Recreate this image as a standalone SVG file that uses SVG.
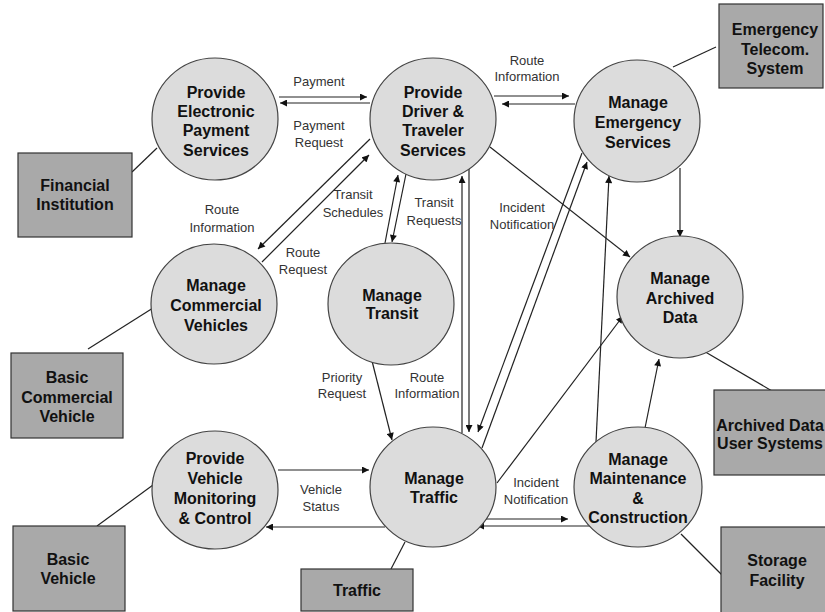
<svg xmlns="http://www.w3.org/2000/svg" width="825" height="612" viewBox="0 0 825 612">
<defs>
<marker id="ah" viewBox="0 0 10 10" refX="10" refY="5" markerWidth="8" markerHeight="7" markerUnits="userSpaceOnUse" orient="auto"><path d="M0,0 L10,5 L0,10 z" fill="#111"/></marker>
<style>
.proc{fill:#dcdcdc;stroke:#444;stroke-width:1.2}
.ext{fill:#a9a9a9;stroke:#333;stroke-width:1.2}
.nt{font-family:"Liberation Sans",Arial,sans-serif;font-weight:bold;font-size:16px;fill:#111;text-anchor:middle}
.lb{font-family:"Liberation Sans",Arial,sans-serif;font-size:13px;fill:#333;text-anchor:middle}
.c{stroke:#222;stroke-width:1.2;fill:none}
.a{stroke:#222;stroke-width:1.2;fill:none;marker-end:url(#ah)}
</style>
</defs>
<rect width="825" height="612" fill="#fff"/>
<g id="connectors">
<line class="c" x1="716" y1="47" x2="673" y2="67"/>
<line class="c" x1="132" y1="172" x2="157" y2="148"/>
<line class="c" x1="153" y1="308" x2="88" y2="349"/>
<line class="c" x1="153" y1="485" x2="97" y2="526"/>
<line class="c" x1="405" y1="542" x2="391" y2="569"/>
<line class="c" x1="702" y1="350" x2="772" y2="391"/>
<line class="c" x1="681" y1="534" x2="722" y2="575"/>
<line class="a" x1="279" y1="97" x2="367" y2="97"/>
<line class="a" x1="370" y1="103" x2="280" y2="103"/>
<line class="a" x1="494" y1="96" x2="569" y2="96"/>
<line class="a" x1="575" y1="104" x2="502" y2="104"/>
<line class="a" x1="490" y1="147" x2="630" y2="257"/>
<line class="a" x1="680" y1="168" x2="680" y2="237"/>
<line class="a" x1="370" y1="139" x2="258" y2="249"/>
<line class="a" x1="262" y1="262" x2="369" y2="155"/>
<line class="a" x1="385" y1="243" x2="398" y2="175"/>
<line class="a" x1="406" y1="174" x2="392" y2="242"/>
<line class="a" x1="462" y1="433" x2="462" y2="176"/>
<line class="a" x1="469" y1="168" x2="469" y2="432"/>
<line class="a" x1="582" y1="153" x2="478" y2="432"/>
<line class="a" x1="482" y1="448" x2="587" y2="162"/>
<line class="a" x1="596" y1="442" x2="609" y2="176"/>
<line class="a" x1="645" y1="428" x2="659" y2="359"/>
<line class="a" x1="497" y1="483" x2="623" y2="316"/>
<line class="a" x1="371" y1="357" x2="392" y2="440"/>
<line class="a" x1="278" y1="470" x2="369" y2="470"/>
<line class="a" x1="385" y1="527" x2="266" y2="527"/>
<line class="a" x1="484" y1="519" x2="568" y2="519"/>
<line class="a" x1="596" y1="526" x2="477" y2="526"/>
</g>
<g id="labels">
<text class="lb" x="319" y="86">Payment</text>
<text class="lb" x="319" y="130">Payment</text>
<text class="lb" x="319" y="147">Request</text>
<text class="lb" x="527" y="65">Route</text>
<text class="lb" x="527" y="81">Information</text>
<text class="lb" x="222" y="214">Route</text>
<text class="lb" x="222" y="232">Information</text>
<text class="lb" x="303" y="257">Route</text>
<text class="lb" x="303" y="274">Request</text>
<text class="lb" x="353" y="199">Transit</text>
<text class="lb" x="353" y="217">Schedules</text>
<text class="lb" x="434" y="207">Transit</text>
<text class="lb" x="434" y="225">Requests</text>
<text class="lb" x="522" y="212">Incident</text>
<text class="lb" x="522" y="229">Notification</text>
<text class="lb" x="342" y="382">Priority</text>
<text class="lb" x="342" y="398">Request</text>
<text class="lb" x="427" y="382">Route</text>
<text class="lb" x="427" y="398">Information</text>
<text class="lb" x="321" y="494">Vehicle</text>
<text class="lb" x="321" y="511">Status</text>
<text class="lb" x="536" y="487">Incident</text>
<text class="lb" x="536" y="504">Notification</text>
</g>
<g id="payment">
<ellipse class="proc" cx="215" cy="119" rx="63" ry="61"/>
<text class="nt" x="216" y="98">Provide</text>
<text class="nt" x="216" y="117">Electronic</text>
<text class="nt" x="216" y="136">Payment</text>
<text class="nt" x="216" y="156">Services</text>
</g>
<g id="driver">
<ellipse class="proc" cx="433" cy="119" rx="63" ry="61"/>
<text class="nt" x="433" y="98">Provide</text>
<text class="nt" x="433" y="117">Driver &amp;</text>
<text class="nt" x="433" y="136">Traveler</text>
<text class="nt" x="433" y="156">Services</text>
</g>
<g id="emergency">
<ellipse class="proc" cx="637" cy="121" rx="63" ry="61"/>
<text class="nt" x="638" y="108">Manage</text>
<text class="nt" x="638" y="128">Emergency</text>
<text class="nt" x="638" y="148">Services</text>
</g>
<g id="archived">
<ellipse class="proc" cx="680" cy="297" rx="63" ry="61"/>
<text class="nt" x="680" y="284">Manage</text>
<text class="nt" x="680" y="304">Archived</text>
<text class="nt" x="680" y="323">Data</text>
</g>
<g id="commercial">
<ellipse class="proc" cx="214" cy="304" rx="63" ry="60"/>
<text class="nt" x="216" y="291">Manage</text>
<text class="nt" x="216" y="311">Commercial</text>
<text class="nt" x="216" y="331">Vehicles</text>
</g>
<g id="transit">
<ellipse class="proc" cx="391" cy="304" rx="63" ry="61"/>
<text class="nt" x="392" y="301">Manage</text>
<text class="nt" x="392" y="319">Transit</text>
</g>
<g id="vehicle">
<ellipse class="proc" cx="215" cy="490" rx="63" ry="59"/>
<text class="nt" x="215" y="464">Provide</text>
<text class="nt" x="215" y="484">Vehicle</text>
<text class="nt" x="215" y="504">Monitoring</text>
<text class="nt" x="215" y="524">&amp; Control</text>
</g>
<g id="traffic">
<ellipse class="proc" cx="433" cy="487" rx="63" ry="60"/>
<text class="nt" x="434" y="484">Manage</text>
<text class="nt" x="434" y="503">Traffic</text>
</g>
<g id="maintenance">
<ellipse class="proc" cx="638" cy="487" rx="64" ry="60"/>
<text class="nt" x="638" y="465">Manage</text>
<text class="nt" x="638" y="484">Maintenance</text>
<text class="nt" x="638" y="504">&amp;</text>
<text class="nt" x="638" y="523">Construction</text>
</g>
<g id="telecom">
<rect class="ext" x="719" y="4" width="104" height="84"/>
<text class="nt" x="775" y="35">Emergency</text>
<text class="nt" x="775" y="55">Telecom.</text>
<text class="nt" x="775" y="74">System</text>
</g>
<g id="financial">
<rect class="ext" x="18" y="153" width="114" height="84"/>
<text class="nt" x="75" y="191">Financial</text>
<text class="nt" x="75" y="210">Institution</text>
</g>
<g id="basic-commercial">
<rect class="ext" x="11" y="353" width="112" height="85"/>
<text class="nt" x="67" y="383">Basic</text>
<text class="nt" x="67" y="403">Commercial</text>
<text class="nt" x="67" y="422">Vehicle</text>
</g>
<g id="basic-vehicle">
<rect class="ext" x="13" y="526" width="112" height="85"/>
<text class="nt" x="68" y="565">Basic</text>
<text class="nt" x="68" y="584">Vehicle</text>
</g>
<g id="traffic-ext">
<rect class="ext" x="301" y="569" width="112" height="42"/>
<text class="nt" x="357" y="596">Traffic</text>
</g>
<g id="archived-users">
<rect class="ext" x="714" y="390" width="115" height="85"/>
<text class="nt" x="770" y="431">Archived Data</text>
<text class="nt" x="770" y="449">User Systems</text>
</g>
<g id="storage">
<rect class="ext" x="721" y="527" width="110" height="90"/>
<text class="nt" x="777" y="566">Storage</text>
<text class="nt" x="777" y="586">Facility</text>
</g>
</svg>
